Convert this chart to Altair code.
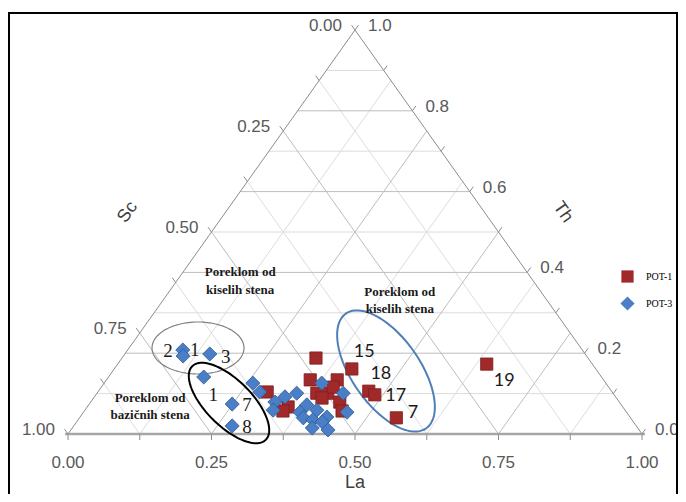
import altair as alt
import pandas as pd
import numpy as np

# ---------------- data (ternary La / Th, Sc = 1 - La - Th) ----------------
pot1_la = [0.338, 0.414, 0.471, 0.486, 0.552, 0.643, 0.355, 0.402, 0.383, 0.402,
           0.434, 0.449, 0.350, 0.346, 0.295, 0.404, 0.398]
pot1_th = [0.188, 0.161, 0.106, 0.097, 0.040, 0.173, 0.134, 0.134, 0.101, 0.101,
           0.079, 0.057, 0.067, 0.057, 0.104, 0.116, 0.089]

pot3_la = [0.096, 0.104, 0.148, 0.166, 0.249, 0.276, 0.259, 0.282, 0.321, 0.328,
           0.332, 0.348, 0.380, 0.377, 0.379, 0.404, 0.430, 0.390, 0.409, 0.428,
           0.418, 0.448, 0.459, 0.429]
pot3_th = [0.208, 0.193, 0.198, 0.141, 0.074, 0.020, 0.126, 0.104, 0.079, 0.059,
           0.092, 0.101, 0.072, 0.054, 0.126, 0.059, 0.042, 0.040, 0.035, 0.030,
           0.015, 0.010, 0.054, 0.101]

series_names = ["POT-1", "POT-3"]
series_colors = ["#A2292A", "#4A7EC6"]
series_strokes = ["#7E1F1F", "#2C5A93"]

la_ticks = [0.0, 0.25, 0.5, 0.75, 1.0]
sc_ticks = [0.0, 0.25, 0.5, 0.75, 1.0]
th_ticks = [0.0, 0.2, 0.4, 0.6, 0.8, 1.0]

# sample labels: (text, X, Y in chart coords, font)
lab_text = ["2", "1", "3", "1", "7", "8", "15", "18", "17", "7", "19"]
lab_x = [0.174, 0.221, 0.275, 0.253, 0.312, 0.312, 0.516, 0.545, 0.571, 0.601, 0.760]
lab_y = [0.205, 0.208, 0.191, 0.097, 0.072, 0.017, 0.203, 0.149, 0.094, 0.052, 0.131]
lab_serif = [True, True, True, True, True, True, False, False, False, False, False]

ann_text = ["Poreklom od", "kiselih stena", "Poreklom od", "kiselih stena",
            "Poreklom od", "bazičnih stena"]
ann_x = [0.300, 0.300, 0.578, 0.578, 0.143, 0.143]
ann_y = [0.401, 0.356, 0.351, 0.309, 0.089, 0.047]

# ellipses: centre X, Y (chart coords), semi-axes (px), rotation (deg), colour, width
ell_cx = [0.2265, 0.2805, 0.554]
ell_cy = [0.2129, 0.0767, 0.156]
ell_a = [46, 52, 70]
ell_b = [26, 23, 34]
ell_ang = [0, 45, 55]
ell_col = ["#808080", "#000000", "#4F7FB8"]
ell_w = [1.2, 2.0, 2.0]

# ---------------- geometry ----------------
W, H = 670, 486
X0, Y0 = 60, 426     # plot px of left vertex
SX, SY = 574, 404    # px per ternary unit
xs = alt.Scale(domain=[-X0 / SX, (W - X0) / SX], nice=False, zero=False)
ys = alt.Scale(domain=[(Y0 - H) / SY, Y0 / SY], nice=False, zero=False)


def ax(f="x"):
    return alt.X(f + ":Q", scale=xs, axis=None)


def ay(f="y"):
    return alt.Y(f + ":Q", scale=ys, axis=None)


# grid segments
segs = []
for i in range(1, 10):
    t = i / 10
    segs.append(dict(x=t / 2, y=t, x2=1 - t / 2, y2=t, major=(i % 2 == 0)))
for i in range(1, 8):
    s = i / 8
    segs.append(dict(x=(1 - s) / 2, y=1 - s, x2=1 - s, y2=0, major=(i % 2 == 0)))
    segs.append(dict(x=s, y=0, x2=s + (1 - s) / 2, y2=1 - s, major=(i % 2 == 0)))
grid = pd.DataFrame(segs)

edges = pd.DataFrame([
    dict(x=0, y=0, x2=0.5, y2=1),
    dict(x=1, y=0, x2=0.5, y2=1),
])
base = pd.DataFrame([dict(x=-0.005, y=0, x2=1.005, y2=0)])

tk = 6
ticks = []
for i in range(9):
    l = i / 8
    ticks.append(dict(x=l, y=0, x2=l, y2=-tk / SY))
for i in range(9):
    s = i / 8
    px, py = (1 - s) / 2, 1 - s
    ticks.append(dict(x=px, y=py, x2=px - 0.58 * tk / SX, y2=py + 0.815 * tk / SY))
for i in range(11):
    t = i / 10
    px, py = 1 - t / 2, t
    ticks.append(dict(x=px, y=py, x2=px + 0.58 * tk / SX, y2=py + 0.815 * tk / SY))
ticks = pd.DataFrame(ticks)

la_lab = pd.DataFrame(dict(x=la_ticks, y=[0] * len(la_ticks),
                           t=[f"{v:.2f}" for v in la_ticks]))
sc_lab = pd.DataFrame(dict(x=[(1 - s) / 2 for s in sc_ticks], y=[1 - s for s in sc_ticks],
                           t=[f"{v:.2f}" for v in sc_ticks]))
th_lab = pd.DataFrame(dict(x=[1 - t / 2 for t in th_ticks], y=th_ticks,
                           t=[f"{v:.1f}" for v in th_ticks]))

pts = pd.concat([
    pd.DataFrame(dict(La=pot1_la, Th=pot1_th, series=series_names[0])),
    pd.DataFrame(dict(La=pot3_la, Th=pot3_th, series=series_names[1])),
], ignore_index=True)
pts["Sc"] = 1 - pts["La"] - pts["Th"]
pts["x"] = pts["La"] + pts["Th"] / 2
pts["y"] = pts["Th"]

labs = pd.DataFrame(dict(t=lab_text, x=lab_x, y=lab_y, serif=lab_serif))
anns = pd.DataFrame(dict(t=ann_text, x=ann_x, y=ann_y))

# ---------------- layers ----------------
g_minor = alt.Chart(grid[~grid.major]).mark_rule(color="#DCDCDC", strokeWidth=1).encode(
    x=ax(), y=ay(), x2="x2:Q", y2="y2:Q")
g_major = alt.Chart(grid[grid.major]).mark_rule(color="#BDBDBD", strokeWidth=1).encode(
    x=ax(), y=ay(), x2="x2:Q", y2="y2:Q")
edge_l = alt.Chart(edges).mark_rule(color="#8C8C8C", strokeWidth=1).encode(
    x=ax(), y=ay(), x2="x2:Q", y2="y2:Q")
base_l = alt.Chart(base).mark_rule(color="#A6A6A6", strokeWidth=2.5).encode(
    x=ax(), y=ay(), x2="x2:Q", y2="y2:Q")
tick_l = alt.Chart(ticks).mark_rule(color="#8C8C8C", strokeWidth=1).encode(
    x=ax(), y=ay(), x2="x2:Q", y2="y2:Q")

lab_font = dict(font="Liberation Sans", fontSize=17, color="#595959")
t_la = alt.Chart(la_lab).mark_text(align="center", baseline="middle", dy=29, **lab_font).encode(
    x=ax(), y=ay(), text="t:N")
t_sc = alt.Chart(sc_lab).mark_text(align="right", baseline="middle", dx=-13, dy=-4, **lab_font).encode(
    x=ax(), y=ay(), text="t:N")
t_th = alt.Chart(th_lab).mark_text(align="left", baseline="middle", dx=13, dy=-4, **lab_font).encode(
    x=ax(), y=ay(), text="t:N")

title_df = pd.DataFrame(dict(t=["La", "Sc", "Th"], x=[0.5, 0.104, 0.862], y=[-0.121, 0.549, 0.549],
                             a=[0, 305, 55]))
t_titles = alt.Chart(title_df).mark_text(font="Liberation Sans", fontSize=18, color="#404040",
                                         baseline="middle", align="center").encode(
    x=ax(), y=ay(), text="t:N", angle=alt.Angle("a:Q", scale=None))

ell_layers = []
for k in range(len(ell_cx)):
    tt = np.linspace(0, 2 * np.pi, 121)
    r = np.radians(ell_ang[k])
    ex = ell_a[k] * np.cos(tt) * np.cos(r) - ell_b[k] * np.sin(tt) * np.sin(r)
    ey = ell_a[k] * np.cos(tt) * np.sin(r) + ell_b[k] * np.sin(tt) * np.cos(r)
    edf = pd.DataFrame(dict(o=np.arange(len(tt)), x=ell_cx[k] + ex / SX, y=ell_cy[k] - ey / SY))
    ell_layers.append(
        alt.Chart(edf).mark_line(color=ell_col[k], strokeWidth=ell_w[k]).encode(
            x=ax(), y=ay(), order="o:Q"))

leg = alt.Legend(title=None, orient="none", legendX=612, legendY=262,
                 labelFont="Liberation Serif", labelFontSize=10, labelColor="#000000",
                 symbolSize=190, rowPadding=13, padding=0, labelOffset=11,
                 symbolStrokeWidth=0)
points = alt.Chart(pts).mark_point(filled=True, opacity=1, strokeWidth=0.8).encode(
    x=ax(), y=ay(),
    color=alt.Color("series:N", scale=alt.Scale(domain=series_names, range=series_colors),
                    legend=leg),
    shape=alt.Shape("series:N", scale=alt.Scale(domain=series_names, range=["square", "diamond"]),
                    legend=leg),
    size=alt.Size("series:N", scale=alt.Scale(domain=series_names, range=[150, 200]), legend=None),
    stroke=alt.Stroke("series:N", scale=alt.Scale(domain=series_names, range=series_strokes),
                      legend=None),
)

t_serif = alt.Chart(labs[labs.serif]).mark_text(font="Liberation Serif", fontSize=19, color="#1a1a1a",
                                                baseline="middle", align="center").encode(
    x=ax(), y=ay(), text="t:N")
t_sans = alt.Chart(labs[~labs.serif]).mark_text(font="Lato", fontSize=18, color="#1a1a1a",
                                                baseline="middle", align="center").encode(
    x=ax(), y=ay(), text="t:N")
t_ann = alt.Chart(anns).mark_text(font="Liberation Serif", fontSize=13, fontWeight="bold",
                                  color="#1a1a1a", baseline="middle", align="center").encode(
    x=ax(), y=ay(), text="t:N")

frame = alt.Chart(pd.DataFrame(dict(k=[0]))).mark_rect(fillOpacity=0, stroke="#000000",
                                                        strokeWidth=2).encode(
    x=alt.value(1), x2=alt.value(669), y=alt.value(5), y2=alt.value(520))

chart = alt.layer(
    g_minor, g_major, edge_l, base_l, tick_l, t_la, t_sc, t_th, t_titles,
    *ell_layers, points, t_serif, t_sans, t_ann, frame
).properties(
    width=W, height=H, padding=0, autosize="none", background="white"
).configure_view(stroke=None)

chart.save("out.html", embed_options={"renderer": "svg", "actions": False})
